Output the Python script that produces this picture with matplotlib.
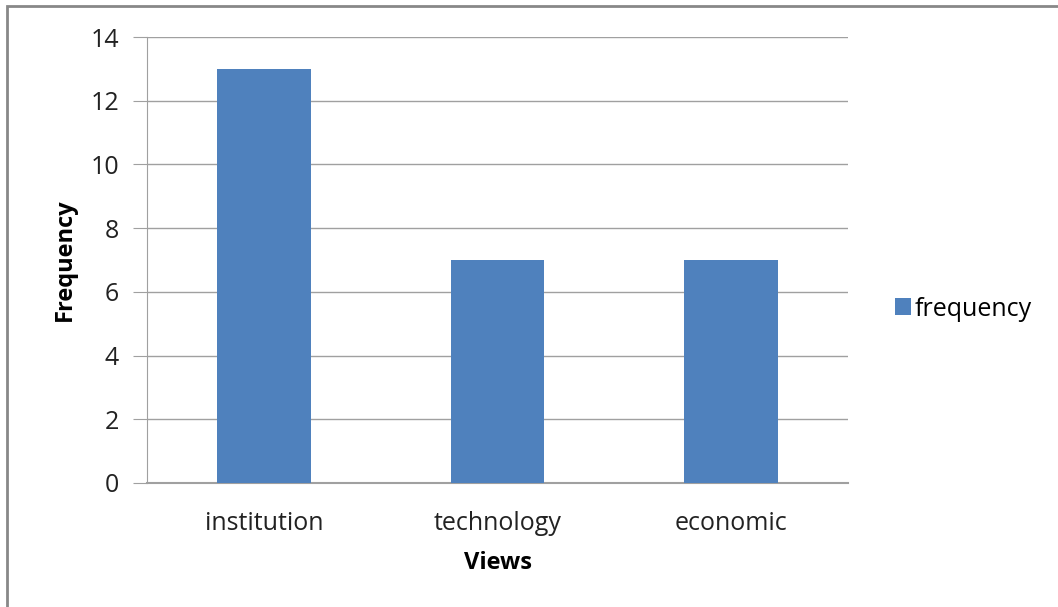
import matplotlib.pyplot as plt
from matplotlib.patches import Rectangle

# Werte aus dem Diagramm
views = ['institution', 'technology', 'economic']
frequency = [13, 7, 7]
y_ticks = [0, 2, 4, 6, 8, 10, 12, 14]

plt.rcParams['font.family'] = ['Open Sans', 'DejaVu Sans']

fig = plt.figure(figsize=(10.58, 6.07), dpi=100)
ax = fig.add_axes([147 / 1058, 1 - 483 / 607, 701 / 1058, 446 / 607])

ax.bar(views, frequency, width=0.4, color='#4f81bd', label='frequency', zorder=3)

ax.set_xlim(-0.5, 2.5)
ax.set_ylim(0, 14)
ax.set_yticks(y_ticks)
ax.yaxis.grid(True, color='#a0a0a0', linewidth=1, zorder=0)

for side in ['top', 'right']:
    ax.spines[side].set_visible(False)
ax.spines['left'].set_color('#a0a0a0')
ax.spines['bottom'].set_color('#a0a0a0')
ax.spines['bottom'].set_linewidth(1.5)

ax.tick_params(axis='y', length=10, color='#a0a0a0', labelsize=18, pad=10, labelcolor='#222222')
ax.tick_params(axis='x', length=0, labelsize=18, pad=20, labelcolor='#222222')

ax.set_xlabel('Views', fontsize=17, fontweight='bold', labelpad=11)
ax.set_ylabel('Frequency', fontsize=17, fontweight='bold', labelpad=10)

ax.legend(loc='center left', bbox_to_anchor=(1.035, 0.39), frameon=False, fontsize=18,
          handlelength=0.65, handleheight=0.65, handletextpad=0.15)

# Rahmen um das Diagramm
fig.patches.append(Rectangle((7 / 1058, -0.1), 1.2, 1 - 6 / 607 + 0.1, transform=fig.transFigure,
                             fill=False, edgecolor='#888888', linewidth=2))

fig.savefig('out.png', dpi=100)
